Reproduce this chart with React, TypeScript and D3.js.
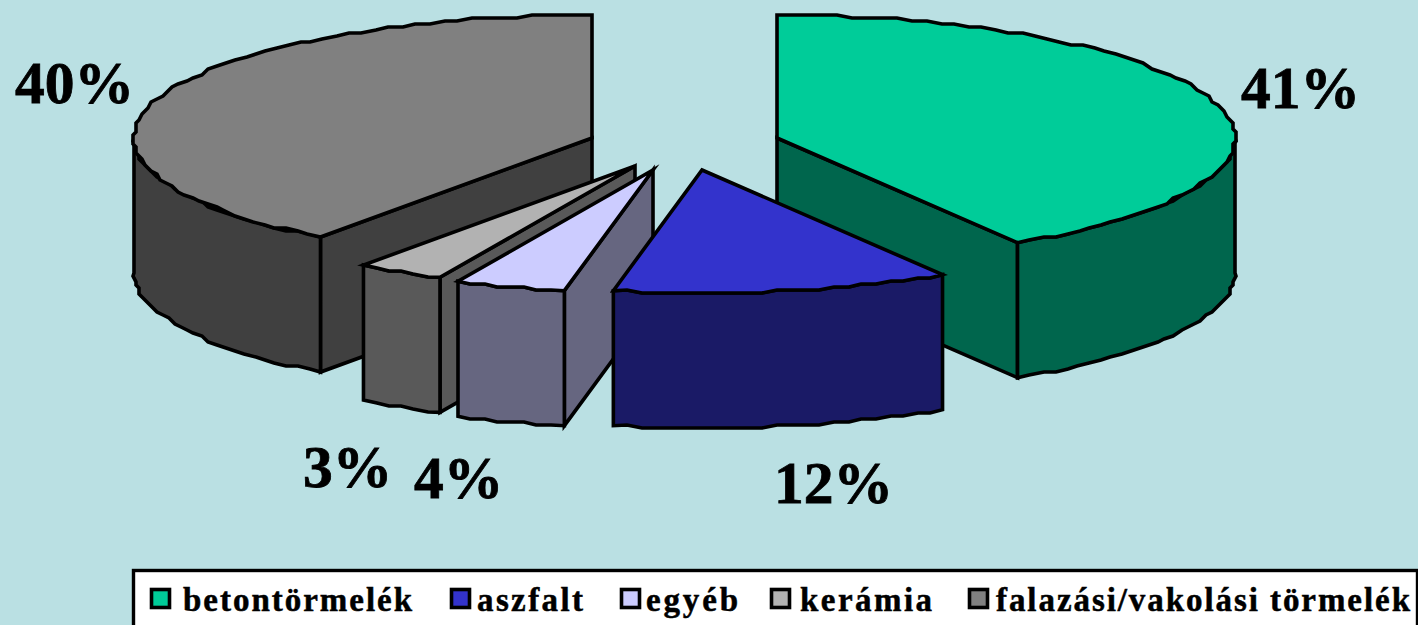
import React from "react";
import * as d3 from "d3";

const categories = ["betontörmelék", "aszfalt", "egyéb", "kerámia", "falazási/vakolási törmelék"];
const values = [41.2, 11.9, 3.9, 3.1, 39.9];
const percentLabels = ["41%", "12%", "4%", "3%", "40%"];
const topColors = ["#00CC99", "#3333CC", "#CCCCFF", "#B2B2B2", "#808080"];
const sideColors = ["#00664D", "#1A1A66", "#666680", "#595959", "#404040"];

// layout
const WIDTH = 1418, HEIGHT = 625;
const RX = 458, RY = 123, DEPTH = 135, GRID = 3;
const apexX = [777, 702, 653, 635, 592];
const apexY = [138, 170, 170, 166, 138];
const labelX = [1241, 774, 414, 303, 15];
const labelY = [108, 503, 498, 487, 103];
const drawOrder = [4, 0, 3, 2, 1];
const faceOnEnd = [true, false, false, false, false];
const faceShown = [true, false, true, true, true];
const legendSwatchX = [150, 450, 620, 770, 968];
const legendTextX = [183, 477, 646, 800, 996];
const legendTextW = [229, 106, 92, 132, 414];

const xUnit = d3.scaleLinear().domain([-1, 1]).range([-RX, RX]);
const yUnit = d3.scaleLinear().domain([-1, 1]).range([-RY, RY]);
const line = d3.line<[number, number]>().x((p) => p[0]).y((p) => p[1]);

function rim(i: number, a0: number, a1: number): [number, number][] {
  const n = Math.max(1, Math.ceil(Math.abs(a1 - a0) * 30));
  const pts: [number, number][] = [];
  for (let k = 0; k <= n; k++) {
    const a = a0 + ((a1 - a0) * k) / n;
    const dx = xUnit(Math.sin(a));
    const dy = yUnit(-Math.cos(a));
    const end = k === 0 || k === n;
    const sx = end ? dx : Math.round(dx / GRID) * GRID;
    const sy = end ? dy : Math.round(dy / GRID) * GRID;
    pts.push([apexX[i] + sx, apexY[i] + sy]);
  }
  return pts;
}

const down = (p: [number, number]): [number, number] => [p[0], p[1] + DEPTH];

export default function App() {
  const arcs = d3.pie<number>().sort(null)(values);
  const radialFace = (i: number, a: number) => {
    const apex: [number, number] = [apexX[i], apexY[i]];
    const p: [number, number] = [apex[0] + xUnit(Math.sin(a)), apex[1] + yUnit(-Math.cos(a))];
    return line([apex, p, down(p), down(apex)])! + "Z";
  };
  return (
    <svg
      width={WIDTH}
      height={HEIGHT}
      viewBox={`0 0 ${WIDTH} ${HEIGHT}`}
      style={{ position: "absolute", left: 0, top: 0, display: "block" }}
    >
      <rect width={WIDTH} height={HEIGHT} fill="#BAE0E3" />
      <g stroke="#000" strokeWidth={3.6} strokeLinejoin="miter" strokeMiterlimit={6}>
        {drawOrder.map((i) => {
          const { startAngle: s, endAngle: e } = arcs[i];
          const lo = Math.max(s, Math.PI / 2);
          const hi = Math.min(e, (3 * Math.PI) / 2);
          const wall = rim(i, lo, hi);
          const wallPath = line([...wall, ...wall.slice().reverse().map(down)])! + "Z";
          const apex: [number, number] = [apexX[i], apexY[i]];
          const topPath = line([apex, ...rim(i, s, e)])! + "Z";
          return (
            <g key={categories[i]}>
              {faceShown[i] && (
                <path d={radialFace(i, faceOnEnd[i] ? e : s)} fill={sideColors[i]} />
              )}
              <path d={wallPath} fill={sideColors[i]} />
              <path d={topPath} fill={topColors[i]} />
            </g>
          );
        })}
      </g>

      <g fontFamily="'Liberation Serif', serif" fontWeight="bold" fontSize={59.5} fill="#000" stroke="#000" strokeWidth={0.8}>
        {percentLabels.map((t, i) => (
          <text key={t} x={labelX[i]} y={labelY[i]}>{t}</text>
        ))}
      </g>

      <rect x={133.5} y={570.5} width={1284} height={70} fill="#fff" stroke="#000" strokeWidth={3.4} />
      <g fontFamily="'Liberation Serif', serif" fontWeight="bold" fontSize={33} fill="#000">
        {categories.map((c, i) => (
          <g key={c}>
            <rect
              x={legendSwatchX[i] + 1.5}
              y={589.5}
              width={18}
              height={18}
              fill={topColors[i]}
              stroke="#000"
              strokeWidth={3.6}
            />
            <text x={legendTextX[i]} y={611} textLength={legendTextW[i]} lengthAdjust="spacing" stroke="#000" strokeWidth={0.5}>{c}</text>
          </g>
        ))}
      </g>
    </svg>
  );
}
